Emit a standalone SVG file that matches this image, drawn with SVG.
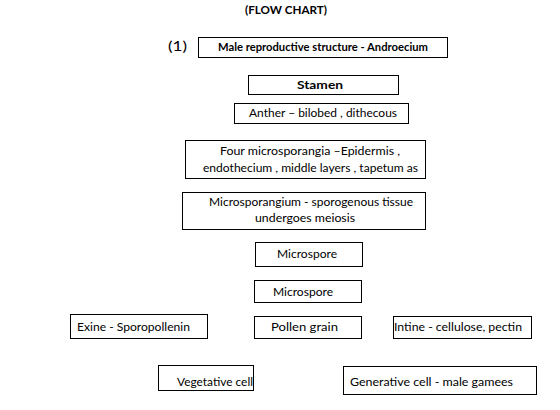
<svg xmlns="http://www.w3.org/2000/svg" width="560" height="410" viewBox="0 0 560 410">
<style>
rect{fill:#fff;stroke:#000;stroke-width:1}
text{font-family:Lato,"Liberation Sans",sans-serif;font-size:12px;fill:#000}
.b{font-weight:bold}
</style>
<rect x="0" y="0" width="560" height="410" style="stroke:none"/>
<text class="b" x="245" y="14" textLength="82" lengthAdjust="spacingAndGlyphs">(FLOW CHART)</text>
<text x="168" y="51" textLength="19" lengthAdjust="spacingAndGlyphs" style="font-size:13px">(1)</text>
<g id="n1"><rect x="198.5" y="37.5" width="249" height="20"/><text class="b" x="218" y="51" textLength="210" lengthAdjust="spacingAndGlyphs">Male reproductive structure - Androecium</text></g>
<g id="n2"><rect x="248.5" y="75.5" width="150" height="19"/><text class="b" x="297" y="89" textLength="46" lengthAdjust="spacingAndGlyphs" style="font-size:11px">Stamen</text></g>
<g id="n3"><rect x="234.5" y="103.5" width="174" height="20"/><text x="249" y="117" textLength="148" lengthAdjust="spacingAndGlyphs">Anther – bilobed , dithecous</text></g>
<g id="n4"><rect x="185.5" y="140.5" width="240" height="38"/><text x="220" y="155" textLength="180" lengthAdjust="spacingAndGlyphs">Four microsporangia –Epidermis ,</text><text x="203" y="172" textLength="215" lengthAdjust="spacingAndGlyphs">endothecium , middle layers , tapetum as</text></g>
<g id="n5"><rect x="182.5" y="192.5" width="243" height="37"/><text x="209" y="206" textLength="204" lengthAdjust="spacingAndGlyphs">Microsporangium - sporogenous tissue</text><text x="255" y="222" textLength="100" lengthAdjust="spacingAndGlyphs">undergoes meiosis</text></g>
<g id="n6"><rect x="255.5" y="242.5" width="107" height="24"/><text x="277" y="258" textLength="60" lengthAdjust="spacingAndGlyphs">Microspore</text></g>
<g id="n7"><rect x="254.5" y="280.5" width="107" height="22"/><text x="273" y="296" textLength="60" lengthAdjust="spacingAndGlyphs">Microspore</text></g>
<g id="n8"><rect x="70.5" y="314.5" width="137" height="24"/><text x="77" y="331" textLength="113" lengthAdjust="spacingAndGlyphs">Exine - Sporopollenin</text></g>
<g id="n9"><rect x="254.5" y="316.5" width="107" height="22"/><text x="271" y="331" textLength="67" lengthAdjust="spacingAndGlyphs">Pollen grain</text></g>
<g id="n10"><rect x="393.5" y="316.5" width="138" height="22"/><text x="394" y="331" textLength="128" lengthAdjust="spacingAndGlyphs">Intine - cellulose, pectin</text></g>
<g id="n11"><rect x="158.5" y="365.5" width="95" height="25"/><text x="177" y="386" textLength="76" lengthAdjust="spacingAndGlyphs">Vegetative cell</text></g>
<g id="n12"><rect x="343.5" y="366.5" width="193" height="28"/><text x="350" y="386" textLength="163" lengthAdjust="spacingAndGlyphs">Generative cell - male gamees</text></g>
<g id="connectors"></g>
</svg>
